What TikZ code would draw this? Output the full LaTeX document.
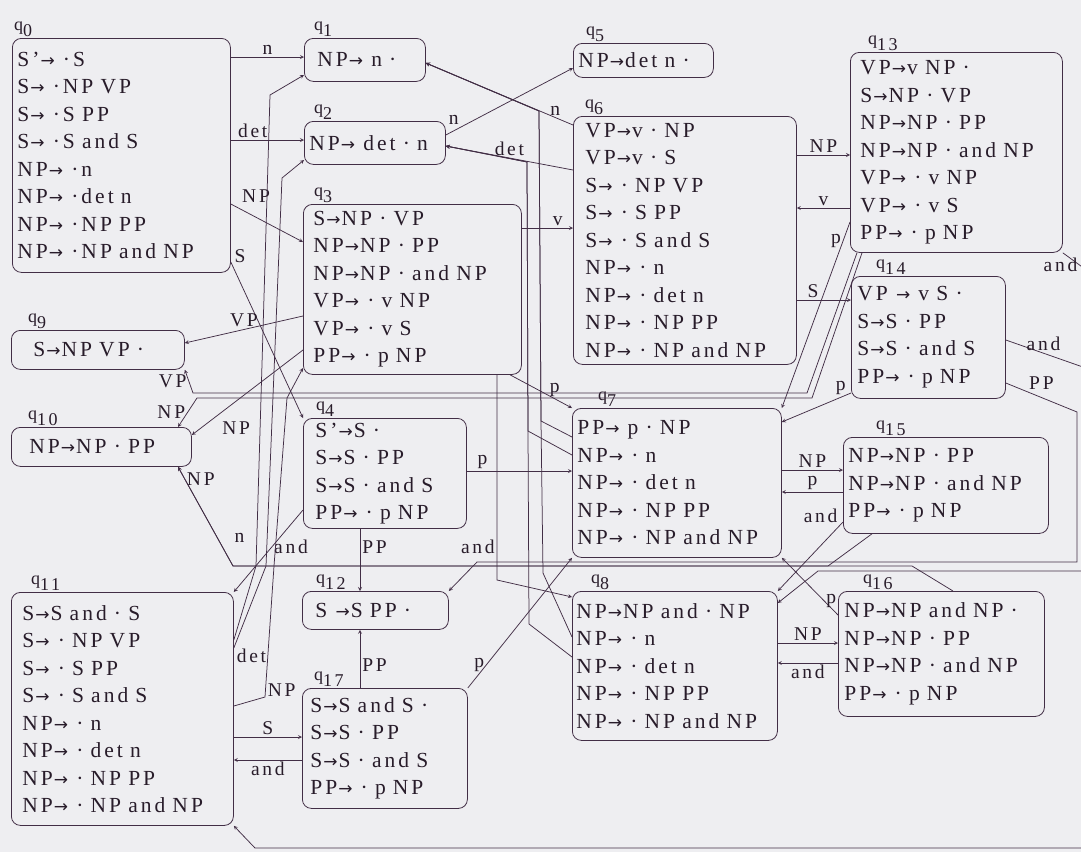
\documentclass[tikz,border=0pt]{standalone}
\usepackage{fontspec}
\setmainfont{Liberation Serif}[LetterSpace=14, WordSpace=2.2]
\newfontfamily\arrowfont{DejaVu Sans}
\usetikzlibrary{arrows}
\definecolor{ink}{RGB}{66,46,70}
\definecolor{paper}{RGB}{238,238,241}
\newcommand{\qn}[1]{q\raisebox{-.35em}{#1}}
\newcommand{\ra}{{\arrowfont\fontsize{17}{17}\selectfont\kern1pt→\kern1pt}}

\begin{document}
\begin{tikzpicture}[x=1pt, y=-1pt,
    state/.style={draw=ink, line width=0.8pt, rounded corners=9pt, anchor=north west,
                  align=left, inner ysep=0pt, text=ink!60!black,
                  font=\fontsize{21.5}{27.5}\selectfont},
    qlab/.style={anchor=south west, inner sep=1pt, text=ink!60!black,
                 font=\fontsize{18}{18}\selectfont},
    arrow/.style={->, >=stealth, draw=ink, line width=0.75pt},
    lbl/.style={inner sep=2pt, text=ink!60!black, font=\fontsize{19.5}{19.5}\selectfont}
]
\useasboundingbox (0,0) rectangle (1081,852);
\clip (0,0) rectangle (1081,852);
\fill[paper] (0,0) rectangle (1081,852);

% item sets
\node[state, text width=208pt, inner xsep=5pt, minimum height=234pt,
      label={[qlab, xshift=1pt]north west:\qn{0}}] (q0) at (12,38)
  {S’\ra{} ·S\\ S\ra{} ·NP VP\\ S\ra{} ·S PP\\ S\ra{} ·S and S\\ NP\ra{} ·n\\ NP\ra{} ·det n\\ NP\ra{} ·NP PP\\ NP\ra{} ·NP and NP};
\node[state, text width=95pt, inner xsep=13pt, minimum height=43pt,
      label={[qlab, xshift=9pt]north west:\qn{1}}] (q1) at (304,38) {NP\ra{} n ·};
\node[state, text width=131pt, inner xsep=5pt, minimum height=43pt,
      label={[qlab, xshift=9pt]north west:\qn{2}}] (q2) at (304,121) {NP\ra{} det · n};
\node[state, text width=198pt, inner xsep=10pt, minimum height=170pt,
      label={[qlab, xshift=10pt]north west:\qn{3}}] (q3) at (303,204)
  {S\ra{}NP · VP\\ NP\ra{}NP · PP\\ NP\ra{}NP · and NP\\ VP\ra{} · v NP\\ VP\ra{} · v S\\ PP\ra{} · p NP};
\node[state, text width=139pt, inner xsep=12pt, minimum height=110pt,
      label={[qlab, xshift=12pt]north west:\qn{4}}] (q4) at (303,418)
  {S’\ra{}S ·\\ S\ra{}S · PP\\ S\ra{}S · and S\\ PP\ra{} · p NP};
\node[state, text width=130pt, inner xsep=5pt, minimum height=34pt,
      label={[qlab, xshift=12pt]north west:\qn{5}}] (q5) at (573,43) {NP\ra{}det n ·};
\node[state, text width=199pt, inner xsep=12pt, minimum height=248pt,
      label={[qlab, xshift=11pt]north west:\qn{6}}] (q6) at (573,116)
  {VP\ra{}v · NP\\ VP\ra{}v · S\\ S\ra{} · NP VP\\ S\ra{} · S PP\\ S\ra{} · S and S\\ NP\ra{} · n\\ NP\ra{} · det n\\ NP\ra{} · NP PP\\ NP\ra{} · NP and NP};
\node[state, text width=199pt, inner xsep=5pt, minimum height=149pt,
      label={[qlab, xshift=25pt]north west:\qn{7}}] (q7) at (572,408)
  {PP\ra{} p · NP\\ NP\ra{} · n\\ NP\ra{} · det n\\ NP\ra{} · NP PP\\ NP\ra{} · NP and NP};
\node[state, text width=197pt, inner xsep=4pt, minimum height=149pt,
      label={[qlab, xshift=18pt]north west:\qn{8}}] (q8) at (572,591)
  {NP\ra{}NP and · NP\\ NP\ra{} · n\\ NP\ra{} · det n\\ NP\ra{} · NP PP\\ NP\ra{} · NP and NP};
\node[state, text width=129pt, inner xsep=22pt, minimum height=39pt,
      label={[qlab, xshift=16pt]north west:\qn{9}}] (q9) at (11,330) {S\ra{}NP VP ·};
\node[state, text width=144pt, inner xsep=18pt, minimum height=39pt,
      label={[qlab, xshift=16pt]north west:\qn{10}}] (q10) at (11,427) {NP\ra{}NP · PP};
\node[state, text width=200pt, inner xsep=11pt, minimum height=233pt,
      label={[qlab, xshift=19pt]north west:\qn{11}}] (q11) at (11,592)
  {S\ra{}S and · S\\ S\ra{} · NP VP\\ S\ra{} · S PP\\ S\ra{} · S and S\\ NP\ra{} · n\\ NP\ra{} · det n\\ NP\ra{} · NP PP\\ NP\ra{} · NP and NP};
\node[state, text width=120pt, inner xsep=13pt, minimum height=38pt,
      label={[qlab, xshift=13pt]north west:\qn{12}}] (q12) at (302,591) {S \ra{}S PP ·};
\node[state, text width=192pt, inner xsep=10pt, minimum height=200pt,
      label={[qlab, xshift=17pt]north west:\qn{13}}] (q13) at (850,52)
  {VP\ra{}v NP ·\\ S\ra{}NP · VP\\ NP\ra{}NP · PP\\ NP\ra{}NP · and NP\\ VP\ra{} · v NP\\ VP\ra{} · v S\\ PP\ra{} · p NP};
\node[state, text width=142pt, inner xsep=6pt, minimum height=122pt,
      label={[qlab, xshift=24pt]north west:\qn{14}}] (q14) at (851,276)
  {VP \ra{} v S ·\\ S\ra{}S · PP\\ S\ra{}S · and S\\ PP\ra{} · p NP};
\node[state, text width=195pt, inner xsep=5pt, minimum height=96pt,
      label={[qlab, xshift=32pt]north west:\qn{15}}] (q15) at (843,437)
  {NP\ra{}NP · PP\\ NP\ra{}NP · and NP\\ PP\ra{} · p NP};
\node[state, text width=194pt, inner xsep=6pt, minimum height=125pt,
      label={[qlab, xshift=24pt]north west:\qn{16}}] (q16) at (838,591)
  {NP\ra{}NP and NP ·\\ NP\ra{}NP · PP\\ NP\ra{}NP · and NP\\ PP\ra{} · p NP};
\node[state, text width=149pt, inner xsep=8pt, minimum height=120pt,
      label={[qlab, xshift=11pt]north west:\qn{17}}] (q17) at (302,688)
  {S\ra{}S and S ·\\ S\ra{}S · PP\\ S\ra{}S · and S\\ PP\ra{} · p NP};

% transitions out of q0
\draw[arrow] (q0.east |- 0,57) -- node[lbl, above] {n} (q1.west |- 0,57);
\draw[arrow] (q0.east |- 0,140) -- node[lbl, above, pos=0.3] {det} (q2.west |- 0,140);
\draw[arrow] (q0.east |- 0,204) -- node[lbl, above=12pt, pos=0.35] {NP} (q3.west |- 0,242);
\draw[arrow] (q0.east |- 0,262) -- node[lbl, pos=0.02, above right] {S} (q4.north west);

% q2, q3, q6
\draw[arrow] (q2.east |- 0,135) -- node[lbl, pos=0.12, above left] {n} (q5.west |- 0,68);
\draw[arrow] (q6.west |- 0,125) -- node[lbl, pos=0.12, above] {n} (q1.east |- 0,63);
\draw[arrow] (q6.west |- 0,170) -- node[lbl, midway, above] {det} (q2.east |- 0,146);
\draw[arrow] (q3.east |- 0,228) -- node[lbl, pos=0.7, above] {v} (q6.west |- 0,228);
\draw[arrow] (510,0 |- q3.south) -- node[lbl, pos=0.72, above] {p} (q7.north west);
\draw[arrow] (497,0 |- q3.south) -- node[lbl, pos=0.84, left] {and} (497,580) -- (q8.west |- 0,597);
\draw[arrow] (q3.west |- 0,316) -- node[lbl, midway, above] {VP} (q9.east |- 0,343);
\draw[arrow] (q3.west |- 0,350) -- node[lbl, pos=0.6, below=18pt] {NP} (q10.east |- 0,435);

% q13 back to q9, q10
\draw[arrow] (857,0 |- q13.south) -- (807,393) -- (193,393)
    -- node[lbl, left] {VP} (q9.south east);
\draw[arrow] (862,0 |- q13.south) -- (812,398) -- (197,398)
    -- node[lbl, left] {NP} (178,0 |- q10.north);

% q6 <-> q13, q14
\draw[arrow] (q6.east |- 0,155) -- node[lbl, above] {NP} (q13.west |- 0,155);
\draw[arrow] (q13.west |- 0,208) -- node[lbl, above] {v} (q6.east |- 0,208);
\draw[arrow] (q6.east |- 0,300) -- node[lbl, pos=0.3, above] {S} (q14.west |- 0,300);
\draw[arrow] (q13.west |- 0,222) -- node[lbl, pos=0.1, left] {p} (q7.north east);
\draw[arrow] (q14.west |- 0,393) -- node[lbl, pos=0.15, above] {p} (q7.east |- 0,422);

% long ways round on the right
\draw[arrow] (q14.east |- 0,340) -- node[lbl, pos=0.4, above] {and} (1100,373)
    -- (1100,848) -- (255,848) -- (q11.south east);
\draw[arrow] (q14.east |- 0,383) -- node[lbl, pos=0.5, above=6pt] {PP} (1077,412)
    -- (1077,562) -- (477,562) -- (q12.north east);
\draw[arrow] (q13.south east) -- node[lbl, pos=0.1, below, xshift=-6pt] {and} (1100,280)
    -- (1100,571) -- (818,571) -- (q8.east |- 0,603);

% q7, q15, q16 -> q10
\draw[arrow] (q7.east |- 0,470) -- node[lbl, above] {NP} (q15.west |- 0,470);
\draw[arrow] (q15.west |- 0,492) -- node[lbl, above] {p} (q7.east |- 0,492);
\draw[arrow] (q15.west |- 0,522) -- node[lbl, pos=0.05, above left] {and} (q8.north east);
\draw[arrow] (872,0 |- q15.south) -- (828,566) -- (233,566)
    -- node[lbl, pos=0.88, right] {NP} (178,0 |- q10.south);
\draw[arrow] (953,0 |- q16.north) -- (912,566) -- (233,566) -- (178,0 |- q10.south);

% q8 <-> q16
\draw[arrow] (q8.east |- 0,643) -- node[lbl, above] {NP} (q16.west |- 0,643);
\draw[arrow] (q16.west |- 0,663) -- node[lbl, below] {and} (q8.east |- 0,663);
\draw[arrow] (q16.west |- 0,615) -- node[lbl, pos=0.25, right] {p} (q7.south east);

% q4
\draw[arrow] (q4.east |- 0,471) -- node[lbl, pos=0.15, above] {p} (q7.west |- 0,471);
\draw[arrow] (q4.west |- 0,510) -- node[lbl, pos=0.45, right] {and} (q11.north east);
\draw[arrow] (360,0 |- q4.south) -- node[lbl, pos=0.3, right] {PP} (360,0 |- q12.north);

% q11, q17
\draw[arrow] (360,0 |- q17.north) -- node[lbl, pos=0.4, right] {PP} (360,0 |- q12.south);
\draw[arrow] (q11.east |- 0,737) -- node[lbl, above] {S} (q17.west |- 0,737);
\draw[arrow] (q17.west |- 0,760) -- node[lbl, below] {and} (q11.east |- 0,760);
\draw[arrow] (q17.north east) -- node[lbl, pos=0.18, left] {p} (q7.south west);
\draw[arrow] (q11.east |- 0,640) -- (256,566) -- node[lbl, pos=0.06, left=10pt] {n} (270,95)
    -- (q1.west |- 0,75);
\draw[arrow] (q11.east |- 0,648) -- node[lbl, pos=0.02, below right] {det} (266,566)
    -- (282,178) -- (q2.west |- 0,160);
\draw[arrow] (q11.east |- 0,706) -- (265,697) -- node[lbl, pos=0.05, right] {NP} (274,566)
    -- (287,398) -- (q3.west |- 0,368);

% n and det from q7, q8 share trunks
\draw[arrow] (q7.west |- 0,437) -- (541,421) -- (539,111) -- (q1.east |- 0,63);
\draw[arrow] (q8.west |- 0,637) -- (543,573) -- (541,421) -- (539,111) -- (q1.east |- 0,63);
\draw[arrow] (q7.west |- 0,455) -- (528,431) -- (527,162) -- (q2.east |- 0,146);
\draw[arrow] (q8.west |- 0,657) -- (529,624) -- (528,431) -- (527,162) -- (q2.east |- 0,146);
\end{tikzpicture}
\end{document}
